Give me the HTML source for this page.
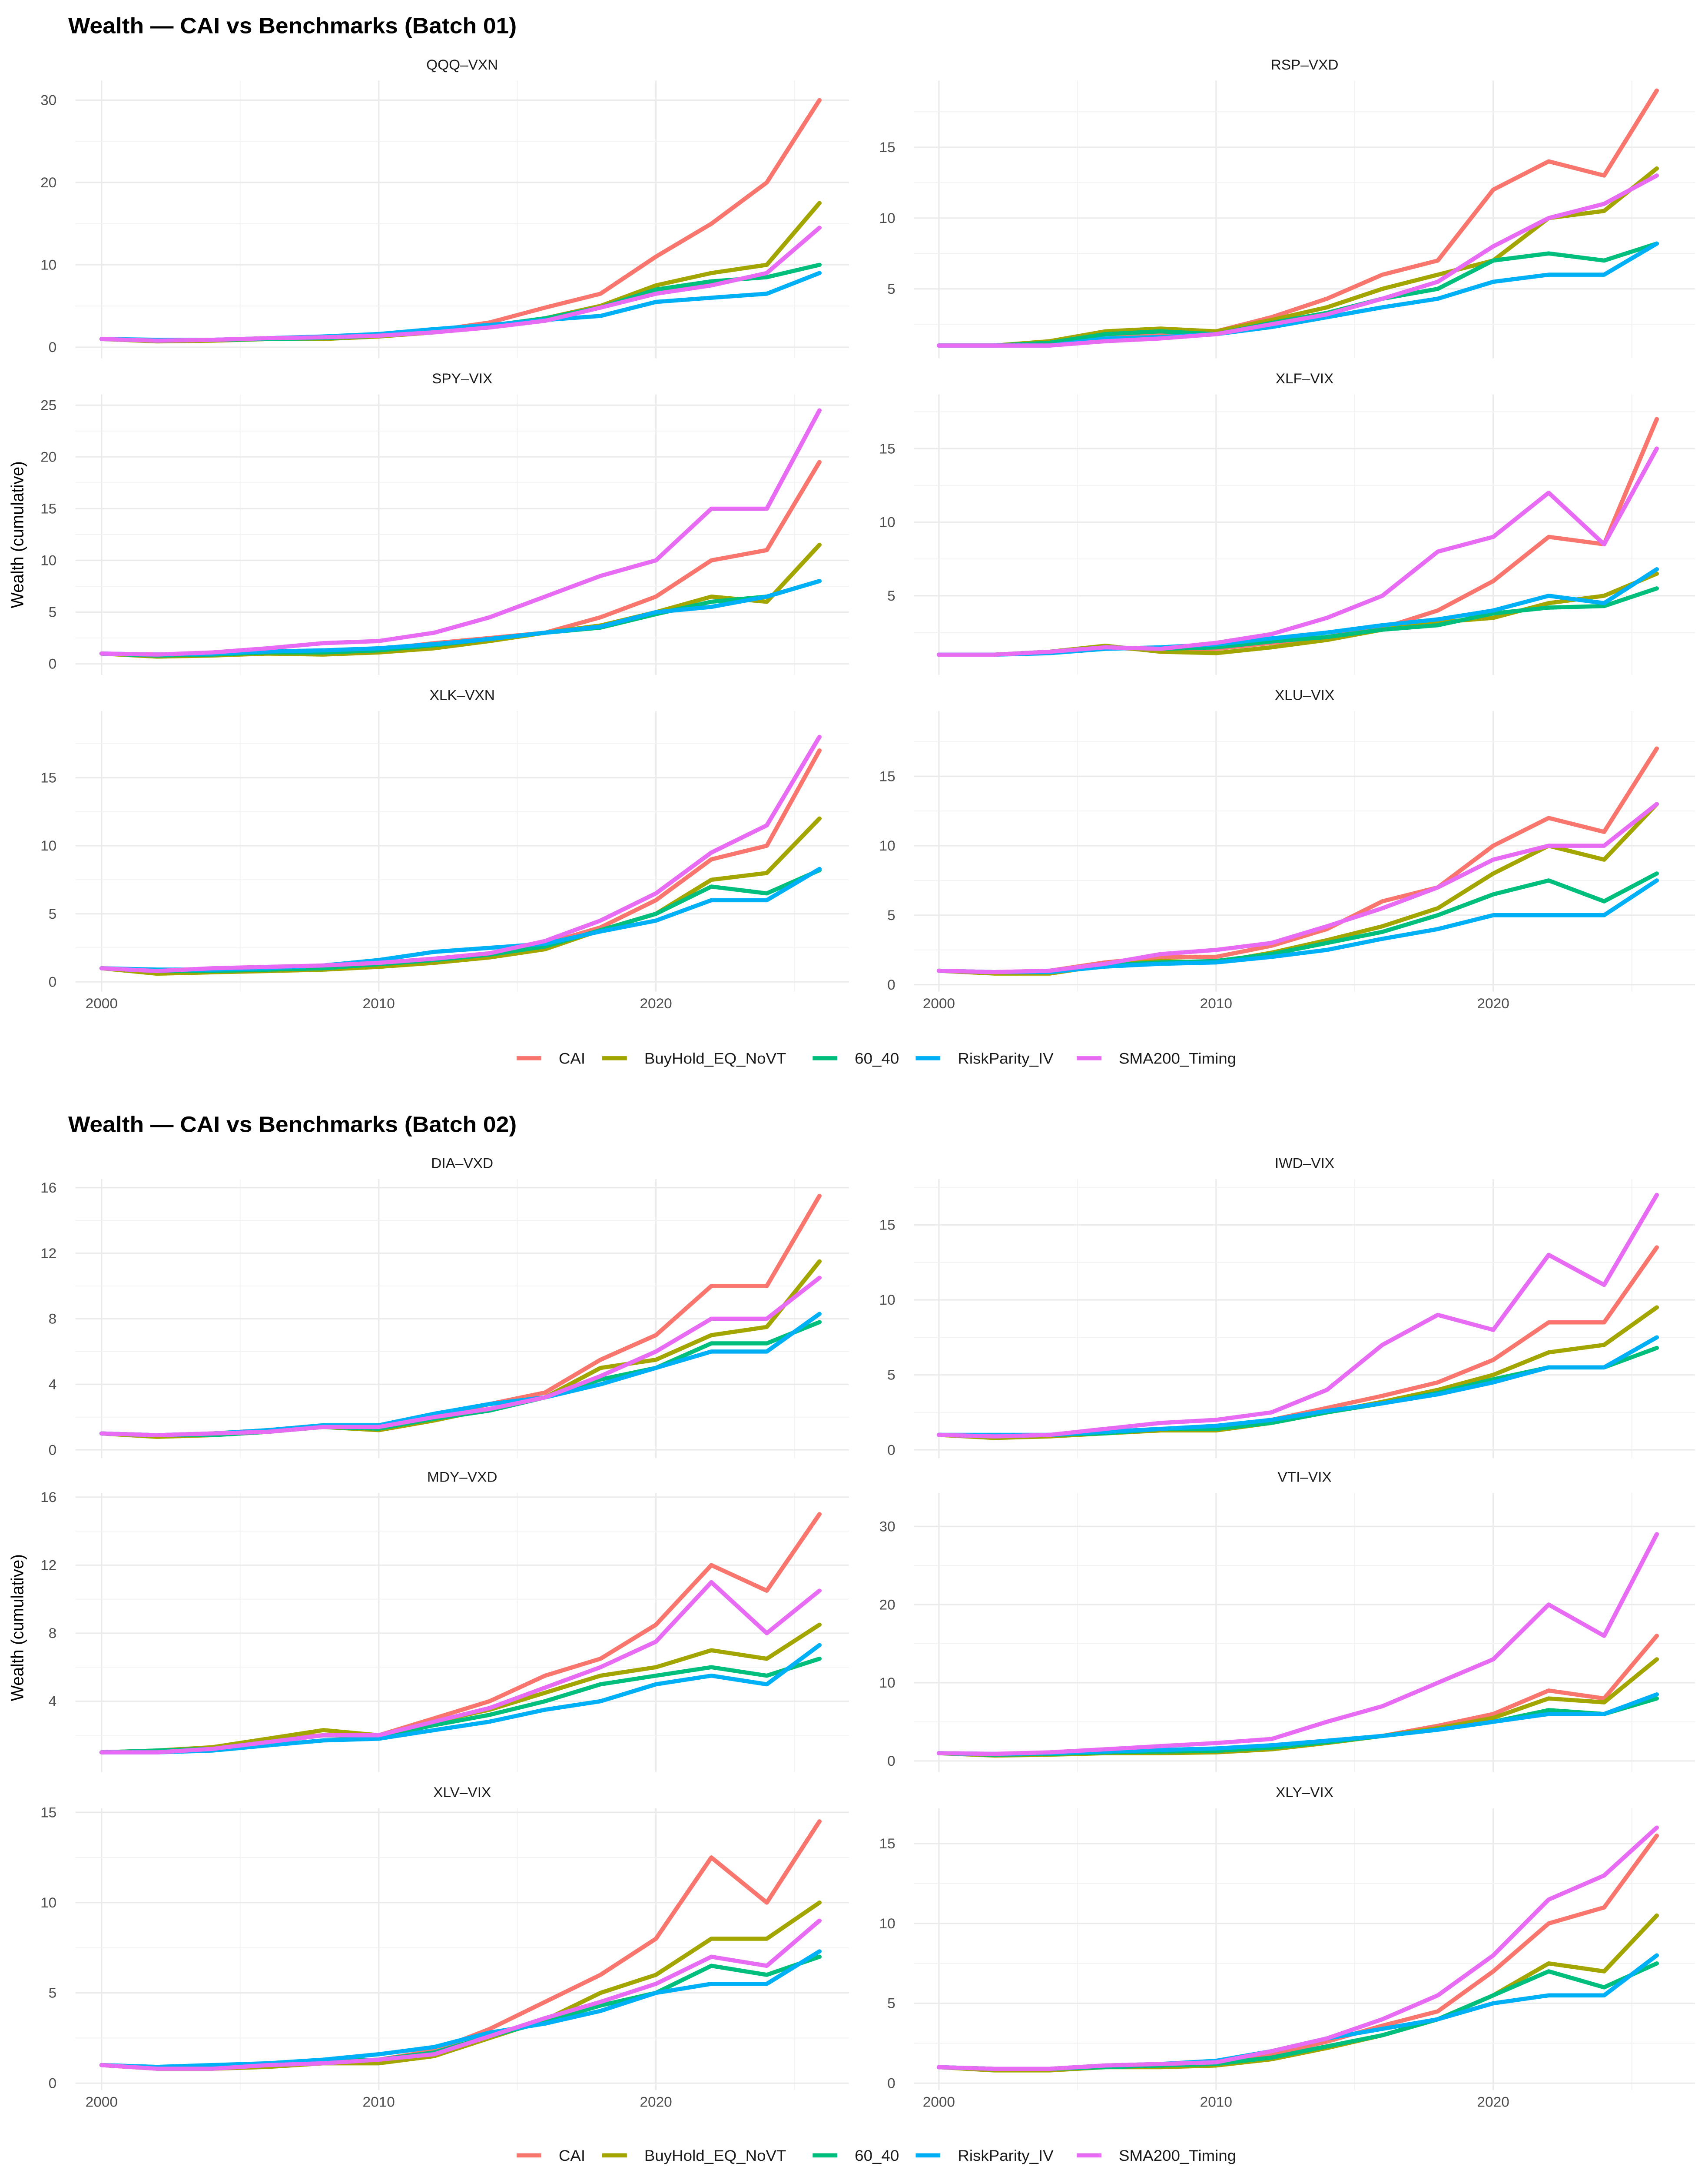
<!DOCTYPE html>
<html><head><meta charset="utf-8"><title>Wealth — CAI vs Benchmarks</title>
<style>html,body{margin:0;padding:0;background:#fff;overflow:hidden;width:100%;height:100%;}svg{position:fixed;left:0;top:0;width:100vw;height:100vh;display:block;font-family:"Liberation Sans",Arial,sans-serif;}</style>
</head><body>
<svg id="chart" viewBox="0 0 1177 1564.7" preserveAspectRatio="none" xmlns="http://www.w3.org/2000/svg">
<rect x="0" y="0" width="1177" height="1565" fill="#fff"/>
<text x="47" y="24" font-size="16" font-weight="bold" fill="#000">Wealth — CAI vs Benchmarks (Batch 01)</text>
<text x="47" y="815" font-size="16" font-weight="bold" fill="#000">Wealth — CAI vs Benchmarks (Batch 02)</text>
<text transform="translate(16,385) rotate(-90)" text-anchor="middle" font-size="12" fill="#000">Wealth (cumulative)</text>
<text transform="translate(16,1172) rotate(-90)" text-anchor="middle" font-size="12" fill="#000">Wealth (cumulative)</text>
<g id="panels"></g>
<g id="legends"></g>
</svg>
<script>
const years = [2000,2002,2004,2006,2008,2010,2012,2014,2016,2018,2020,2022,2024,2025.9];
const seriesNames = ["CAI","BuyHold_EQ_NoVT","60_40","RiskParity_IV","SMA200_Timing"];
const seriesColors = ["#F8766D","#A3A500","#00BF7D","#00B0F6","#E76BF3"];
const xTickYears = [2000,2010,2020];

const panelTitles = ["QQQ–VXN","RSP–VXD","SPY–VIX","XLF–VIX","XLK–VXN","XLU–VIX","DIA–VXD","IWD–VIX","MDY–VXD","VTI–VIX","XLV–VIX","XLY–VIX"];
const panelTicks = [[0,10,20,30],[5,10,15],[0,5,10,15,20,25],[5,10,15],[0,5,10,15],[0,5,10,15],[0,4,8,12,16],[0,5,10,15],[4,8,12,16],[0,10,20,30],[0,5,10,15],[0,5,10,15]];

const cai = [
[1,0.8,0.9,1.1,1.1,1.4,2,3,4.8,6.5,11,15,20,30],
[1,1,1.1,1.8,1.8,2,3,4.3,6,7,12,14,13,19],
[1,0.8,0.9,1.1,1.2,1.4,2,2.5,3,4.5,6.5,10,11,19.5],
[1,1,1.2,1.5,1.3,1.4,1.8,2.2,2.8,4,6,9,8.5,17],
[1,0.8,0.9,1,1.1,1.3,1.6,2,2.8,4,6,9,10,17],
[1,0.9,1,1.6,2,2,2.8,4,6,7,10,12,11,17],
[1,0.9,1,1.2,1.5,1.4,2,2.8,3.5,5.5,7,10,10,15.5],
[1,0.9,1,1.2,1.4,1.5,2,2.8,3.6,4.5,6,8.5,8.5,13.5],
[1,1,1.2,1.8,2,2,3,4,5.5,6.5,8.5,12,10.5,15],
[1,0.8,0.9,1.1,1.3,1.4,1.8,2.5,3.2,4.5,6,9,8,16],
[1,0.8,0.8,1,1.2,1.3,1.8,3,4.5,6,8,12.5,10,14.5],
[1,0.9,0.9,1.1,1.2,1.3,1.8,2.6,3.6,4.5,7,10,11,15.5]];
const buyHold = [
[1,0.7,0.8,1,1,1.3,1.8,2.5,3.5,5,7.5,9,10,17.5],
[1,1,1.3,2,2.2,2,2.8,3.7,5,6,7,10,10.5,13.5],
[1,0.7,0.8,1,0.9,1.1,1.5,2.2,3,3.7,5,6.5,6,11.5],
[1,1,1.2,1.6,1.2,1.1,1.5,2,2.7,3.2,3.5,4.5,5,6.5],
[1,0.6,0.7,0.8,0.9,1.1,1.4,1.8,2.4,3.8,5,7.5,8,12],
[1,0.8,0.8,1.4,1.7,1.6,2.3,3.2,4.2,5.5,8,10,9,13],
[1,0.8,0.9,1.1,1.4,1.2,1.8,2.5,3.2,5,5.5,7,7.5,11.5],
[1,0.8,0.9,1.1,1.3,1.3,1.8,2.5,3.2,4,5,6.5,7,9.5],
[1,1.1,1.3,1.8,2.3,2,2.8,3.5,4.5,5.5,6,7,6.5,8.5],
[1,0.7,0.8,1,1,1.1,1.5,2.3,3.2,4.2,5.5,8,7.5,13],
[1,0.8,0.8,0.9,1.1,1.1,1.5,2.5,3.5,5,6,8,8,10],
[1,0.8,0.8,1,1,1.1,1.5,2.2,3,4,5.5,7.5,7,10.5]];
const sixty40 = [
[1,0.8,0.9,1,1.1,1.4,1.9,2.6,3.5,4.8,7,8,8.5,10],
[1,1,1.2,1.8,2,1.8,2.6,3.3,4.3,5,7,7.5,7,8.2],
[1,0.8,0.9,1.1,1.1,1.3,1.8,2.4,3,3.5,4.8,6,6.5,8],
[1,1,1.2,1.5,1.4,1.5,1.9,2.2,2.7,3,3.8,4.2,4.3,5.5],
[1,0.8,0.8,0.9,1,1.3,1.6,2,2.6,3.8,5,7,6.5,8.2],
[1,0.9,0.9,1.4,1.6,1.7,2.2,3,3.8,5,6.5,7.5,6,8],
[1,0.9,0.9,1.1,1.4,1.3,1.9,2.4,3.2,4.3,5,6.5,6.5,7.8],
[1,0.9,1,1.1,1.4,1.4,1.8,2.5,3.1,3.8,4.7,5.5,5.5,6.8],
[1,1.1,1.2,1.6,2,1.9,2.6,3.2,4,5,5.5,6,5.5,6.5],
[1,0.8,0.9,1.1,1.2,1.3,1.7,2.4,3.2,4,5,6.5,6,8],
[1,0.9,0.9,1,1.2,1.3,1.7,2.6,3.4,4.3,5,6.5,6,7],
[1,0.9,0.9,1,1.1,1.2,1.6,2.3,3,4,5.5,7,6,7.5]];
const riskParity = [
[1,0.9,0.9,1.1,1.3,1.6,2.2,2.7,3.3,3.8,5.5,6,6.5,9],
[1,1,1,1.5,1.6,1.8,2.3,3,3.7,4.3,5.5,6,6,8.2],
[1,0.9,1,1.2,1.3,1.5,1.9,2.4,3,3.6,5,5.5,6.5,8],
[1,1,1.1,1.4,1.5,1.7,2.1,2.5,3,3.4,4,5,4.5,6.8],
[1,0.9,0.9,1,1.2,1.6,2.2,2.5,2.8,3.7,4.5,6,6,8.3],
[1,0.9,0.9,1.3,1.5,1.6,2,2.5,3.3,4,5,5,5,7.5],
[1,0.9,1,1.2,1.5,1.5,2.2,2.8,3.2,4,5,6,6,8.3],
[1,1,1,1.2,1.4,1.6,2,2.6,3.1,3.7,4.5,5.5,5.5,7.5],
[1,1,1.1,1.4,1.7,1.8,2.3,2.8,3.5,4,5,5.5,5,7.3],
[1,0.9,1,1.2,1.4,1.6,2,2.6,3.2,4,5,6,6,8.5],
[1,0.9,1,1.1,1.3,1.6,2,2.8,3.3,4,5,5.5,5.5,7.3],
[1,0.9,0.9,1.1,1.2,1.4,2,2.8,3.4,4,5,5.5,5.5,8]];
const sma200 = [
[1,0.8,0.9,1.1,1.2,1.4,1.8,2.4,3.2,4.8,6.5,7.5,9,14.5],
[1,1,1,1.3,1.5,1.8,2.5,3.2,4.3,5.5,8,10,11,13],
[1,0.9,1.1,1.5,2,2.2,3,4.5,6.5,8.5,10,15,15,24.5],
[1,1,1.2,1.5,1.4,1.8,2.4,3.5,5,8,9,12,8.5,15],
[1,0.8,1,1.1,1.2,1.4,1.7,2.1,3,4.5,6.5,9.5,11.5,18],
[1,0.9,1,1.5,2.2,2.5,3,4.2,5.5,7,9,10,10,13],
[1,0.9,1,1.1,1.4,1.4,2,2.5,3.2,4.5,6,8,8,10.5],
[1,0.9,1,1.4,1.8,2,2.5,4,7,9,8,13,11,17],
[1,1,1.2,1.6,2,2,2.8,3.6,4.8,6,7.5,11,8,10.5],
[1,0.9,1.1,1.5,1.9,2.3,2.8,5,7,10,13,20,16,29],
[1,0.8,0.8,1,1.1,1.3,1.6,2.6,3.6,4.5,5.5,7,6.5,9],
[1,0.9,0.9,1.1,1.2,1.3,2,2.8,4,5.5,8,11.5,13,16]];

// layout (not data)
const colLeft = [52,630], colRight = [585,1168], colX2000 = [70,647], pxPerYear = 19.1;
const rowTop = [58,284,512,849,1075,1302], rowBottom = [258,486,714,1050,1276,1505];
const zeroPx = [250,259,478,482,707,709,1044,1044,1274,1268,1500,1500];
const pxPerUnit = [5.93,10.2,7.45,10.6,9.8,10,11.8,10.8,12.25,5.63,13,11.5];
const legendKeyX = [356,415,560,631,742];

const NS = "http://www.w3.org/2000/svg";
function mk(tag, attrs, parent){const e=document.createElementNS(NS,tag);for(const k in attrs)e.setAttribute(k,attrs[k]);parent.appendChild(e);return e;}
const panelsG = document.getElementById("panels");
const allSeries = [cai,buyHold,sixty40,riskParity,sma200];

panelTitles.forEach((title,p)=>{
  const col = p%2, row = Math.floor(p/2);
  const L=colLeft[col], R=colRight[col], T=rowTop[row], B=rowBottom[row];
  const xs = y => colX2000[col] + (y-2000)*pxPerYear;
  const ys = v => zeroPx[p] - v*pxPerUnit[p];
  const g = mk("g",{},panelsG);
  
  
  [1995,2005,2015,2025].forEach(yr=>{const x=xs(yr); if(x>L&&x<R) mk("line",{x1:x,x2:x,y1:T,y2:B,stroke:"#f2f2f2","stroke-width":0.6},g);});
  xTickYears.forEach(yr=>{const x=xs(yr); mk("line",{x1:x,x2:x,y1:T,y2:B,stroke:"#ebebeb","stroke-width":1},g);});
  const ticks = panelTicks[p];
  const step = ticks[1]-ticks[0];
  for(let v=ticks[0]-step/2; v<=ticks[ticks.length-1]+step; v+=step){const y=ys(v); if(y>T&&y<B) mk("line",{x1:L,x2:R,y1:y,y2:y,stroke:"#f2f2f2","stroke-width":0.6},g);}
  ticks.forEach(v=>{const y=ys(v);
    mk("line",{x1:L,x2:R,y1:y,y2:y,stroke:"#ebebeb","stroke-width":1},g);
    const t=mk("text",{x:L-13,y:y+3.5,"text-anchor":"end","font-size":10,fill:"#4d4d4d"},g); t.textContent=v;
    
    
  });
  const st=mk("text",{x:(L+R)/2,y:T-8,"text-anchor":"middle","font-size":10,fill:"#1a1a1a"},g); st.textContent=title;
  
  
  if(row===2||row===5){
    xTickYears.forEach(yr=>{const t=mk("text",{x:xs(yr),y:B+12,"text-anchor":"middle","font-size":10,fill:"#4d4d4d"},g); t.textContent=yr;
      
      });
  }
  allSeries.forEach((arr,s)=>{
    const pts = arr[p].map((v,i)=>xs(years[i]).toFixed(1)+","+ys(v).toFixed(1)).join(" ");
    const pl = mk("polyline",{points:pts,fill:"none",stroke:seriesColors[s],"stroke-width":3,"stroke-linejoin":"round","stroke-linecap":"round"},g);
    
    
  });
});

const legG = document.getElementById("legends");
[762,1552].forEach((ly,li)=>{
  const g = mk("g",{},legG);
  
  
  seriesNames.forEach((n,s)=>{
    const x = legendKeyX[s];
    const e = mk("g",{},g);
    
    
    mk("line",{x1:x,x2:x+17,y1:ly,y2:ly,stroke:seriesColors[s],"stroke-width":3},e);
    const t = mk("text",{x:x+29,y:ly+4,"font-size":11,fill:"#1a1a1a"},e); t.textContent=n;
  });
});
</script>
</body></html>
